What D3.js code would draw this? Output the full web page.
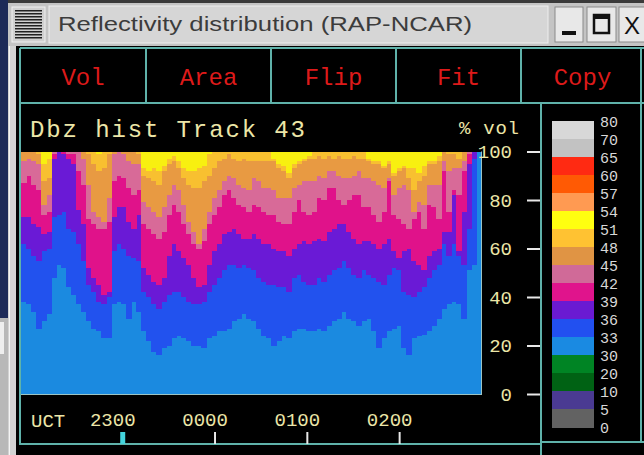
<!DOCTYPE html>
<html><head><meta charset="utf-8">
<script src="https://cdn.jsdelivr.net/npm/d3@7/dist/d3.min.js"></script>
<style>html,body{margin:0;padding:0;background:#000;overflow:hidden}svg{display:block}</style>
</head><body>
<svg id="c" width="644" height="455"></svg>
<script>
// ---------------- DATA ----------------
// Cumulative % of volume below each dBZ threshold, one value per time column
const below33 = [38,37,34,27,30,33,48,53,52,44,41,37,34,30,27,26,23,23,37,38,37,31,38,34,26,22,17.5,16,19,20,23,24,23,22,20,20,19,23,24,26,26,27,30,31,33,31,30,27,24,23,20,22,24,23,26,27,27,26,26,27,26,28,30,31,34,31,30,28,30,31,26,19,23,26,27,28,19,16,23,24,24.5,26,28,31,35,37,38,37,31,51,53,100];
const below36 = [62,60,57,55,59,60,73,74,75,68,67,62,55,45,42,38,37,40,59,62,60,57,56,55,42,40,37,35,38,41,42,42,40,38,37,37,38,42,45,48,51,53,53,52,53,52,51,48,46,45,45,44,44,42,48,49,46,45,45,48,46,49,51,52,55,52,49,48,51,49,48,46,45,49,52,51,42,41,40,42,44,48,51,53,62,57,62,57,53,68,97,100];
const below39 = [73,73,70,69,66,67,97,100,99,97,95,76,70,52,48,45,41,42,73,77,77,71,68,74,52,49,46,45,48,57,62,59,56,53,48,44,45,53,59,62,66,67,68,66,64,64,66,64,62,62,60,59,59,57,60,62,63,62,63,64,63,67,68,70,70,67,64,62,63,63,62,60,62,64,59,56,59,60,55,53,51,57,59,60,67,67,82,59,75,95,100,100];
const below42 = [87,90,86,84,74,75,99,100,100,99,99,92,86,72,70,68,68,71,88,90,89,85,82,84,70,68,66,64,67,74,78,75,70,66,62,60,63,70,74,77,82,84,81,78,77,75,78,77,75,74,74,71,70,70,75,80,75,74,75,81,80,85,85,80,78,80,82,82,77,77,74,71,75,88,74,72,70,68,72,75,68,78,77,72,92,75,84,82,92,99,100,100];
const below45 = [96,97,96,95,78,82,100,100,100,100,100,100,97,86,75,73,71,81,99,100,99,96,95,95,79,77,75,73,77,82,86,84,78,71,67,62,68,75,81,84,88,90,89,86,85,84,89,88,85,85,84,81,81,81,85,86,88,88,88,90,89,92,92,90,89,89,90,92,89,89,88,86,85,89,82,85,86,84,75,79,78,86,86,86,96,92,93,93,96,100,100,100];
const below48 = [100,100,100,99,88,89,100,100,100,100,100,100,100,99,95,92,93,99,100,100,100,100,100,99,90,89,88,86,92,95,96,93,89,86,85,85,88,90,93,96,97,99,97,96,97,96,96,96,96,96,96,93,92,89,93,95,96,97,97,98,97,98,97,98,97,97,98,97,97,96,95,95,93,95,90,92,93,89,84,88,90,95,95,96,100,99,99,97,100,100,100,100];
const below51 = [100,100,100,100,95,97,100,100,100,100,100,100,100,100,100,99,100,100,100,100,100,100,100,100,93,92,93,92,94,97,98,96,93,92,92,93,94,99,100,100,100,100,100,100,100,100,100,100,100,100,97,95,94,91,95,96,97,98,100,100,100,100,100,100,100,100,100,100,100,97,96,96,94,96,91,93,94,93,93,91,94,96,96,98,100,100,100,100,100,100,100,100];
// yellow (51-54 dBZ) fills the remainder up to 100 %

const timeStart = new Date(Date.UTC(2000,0,1,21,54,12));
const timeEnd   = new Date(Date.UTC(2000,0,2,2,53,13));
const hourTicks = [new Date(Date.UTC(2000,0,1,23,0)), new Date(Date.UTC(2000,0,2,0,0)),
                   new Date(Date.UTC(2000,0,2,1,0)), new Date(Date.UTC(2000,0,2,2,0))];
const yTicks = [0,20,40,60,80,100];

const legendLabels = ["80","70","65","60","57","54","51","48","45","42","39","36","33","30","20","10","5","0"];
const legendColors = ["#d8d8d8","#c2c2c2","#ff2a12","#ff5a04","#ff9a52","#ffff10","#ffc232","#e09444","#d06a98","#e0148c","#6a1ad2","#2250f0","#1a8ae2","#008424","#006214","#4a3a92","#626262"];

const layerColors = ["#1b8ae0","#2252ee","#6a1ad6","#e0128a","#d86a98","#e89a42","#f8c030","#f8f010"];
const buttons = ["Vol","Area","Flip","Fit","Copy"];

// ---------------- DRAW ----------------
const svg = d3.select("#c");
const W = 644, H = 455;
const teal = "#5fb2aa";

svg.append("rect").attr("width",W).attr("height",H).attr("fill","#000");

// desktop strip + window frame on the left
svg.append("rect").attr("x",0).attr("y",0).attr("width",8).attr("height",318).attr("fill","#1d2a58");
svg.append("rect").attr("x",0).attr("y",318).attr("width",8).attr("height",137).attr("fill","#b8b8b8");
svg.append("rect").attr("x",0).attr("y",322).attr("width",4).attr("height",32).attr("fill","#eeeeee");
svg.append("rect").attr("x",8).attr("y",0).attr("width",8).attr("height",H).attr("fill","#d2d2d2");
svg.append("rect").attr("x",9).attr("y",0).attr("width",1).attr("height",H).attr("fill","#f4f4f4");

// title bar
svg.append("rect").attr("x",8).attr("y",0).attr("width",W-8).attr("height",46).attr("fill","#c4c4c4");
svg.append("rect").attr("x",8).attr("y",0).attr("width",W-8).attr("height",3).attr("fill","#3a3a3a");
svg.append("rect").attr("x",49).attr("y",6).attr("width",499).attr("height",37).attr("fill","#d6d6d6").attr("stroke","#eeeeee").attr("stroke-width",1);
// menu button
svg.append("rect").attr("x",12).attr("y",7).attr("width",33).attr("height",35).attr("fill","#d0d0d0").attr("stroke","#f0f0f0");
svg.append("g").selectAll("rect").data(d3.range(10)).join("rect")
  .attr("x",15).attr("y",d=>10+d*3).attr("width",27).attr("height",1.5).attr("fill","#202020");
svg.append("text").attr("x",58).attr("y",31).attr("font-family","Liberation Sans, DejaVu Sans, sans-serif")
  .attr("font-size",20).attr("fill","#3c3c3c").attr("textLength",414).attr("lengthAdjust","spacingAndGlyphs")
  .text("Reflectivity distribution (RAP-NCAR)");
// window buttons
[[555,28],[587,29],[619,30]].forEach(([x,w])=>{
  svg.append("rect").attr("x",x).attr("y",7).attr("width",w).attr("height",35).attr("fill","#e8e8e8").attr("stroke","#8a8a8a");
});
svg.append("rect").attr("x",562).attr("y",31).attr("width",14).attr("height",4).attr("fill","#111");
svg.append("rect").attr("x",594).attr("y",15).attr("width",15).attr("height",18).attr("fill","none").attr("stroke","#111").attr("stroke-width",2.5);
svg.append("rect").attr("x",594).attr("y",14).attr("width",15).attr("height",5).attr("fill","#111");
svg.append("text").attr("x",632).attr("y",34).attr("text-anchor","middle").attr("font-family","Liberation Sans, sans-serif")
  .attr("font-size",24).attr("fill","#111").text("X");

// panel borders
const line = (x1,y1,x2,y2,w=2)=>svg.append("line").attr("x1",x1).attr("y1",y1).attr("x2",x2).attr("y2",y2).attr("stroke",teal).attr("stroke-width",w);
line(20,48,644,48);
line(20,48,20,445);
line(20,103,644,103);
line(541,103,541,455);
line(20,444,541,444);
line(541,442,644,442);
line(641,48,641,442);

// button row
const btnEdges = [20,146,271,396,521,644];
btnEdges.slice(1,5).forEach(x=>line(x,48,x,103));
svg.append("g").selectAll("text").data(buttons).join("text")
  .attr("x",(d,i)=>(btnEdges[i]+btnEdges[i+1])/2).attr("y",85).attr("text-anchor","middle")
  .attr("font-family","Liberation Mono, DejaVu Sans Mono, monospace").attr("font-size",24)
  .attr("fill","#dd1a1a").text(d=>d);

// scales
const plotL = 21, plotR = 481;
const x = d3.scaleTime().domain([timeStart,timeEnd]).range([plotL,plotR]);
const xb = d3.scaleBand().domain(d3.range(below33.length)).range([plotL,plotR]).padding(0);
const y = d3.scaleLinear().domain([0,100]).range([394,151.5]);

// stacked columns
const bounds = [below33,below36,below39,below42,below45,below48,below51];
const gPlot = svg.append("g").attr("shape-rendering","crispEdges");
layerColors.forEach((col,k)=>{
  const rows = d3.range(below33.length).map(i=>{
    const lo = k===0 ? 0 : bounds[k-1][i];
    const hi = k<bounds.length ? bounds[k][i] : 100;
    return {i,lo,hi};
  }).filter(d=>d.hi>d.lo);
  gPlot.append("g").selectAll("rect").data(rows).join("rect")
    .attr("x",d=>xb(d.i)).attr("width",xb.bandwidth()+0.5)
    .attr("y",d=>y(d.hi)).attr("height",d=>y(d.lo)-y(d.hi))
    .attr("fill",col);
});
svg.append("line").attr("x1",plotR+0.5).attr("x2",plotR+0.5).attr("y1",y(100)).attr("y2",y(0)+1).attr("stroke","#9cc4c4").attr("stroke-width",1);
svg.append("line").attr("x1",plotL).attr("x2",plotR+1).attr("y1",y(0)+0.5).attr("y2",y(0)+0.5).attr("stroke","#9cc4c4").attr("stroke-width",1);

// titles
const mono = "Liberation Mono, DejaVu Sans Mono, monospace";
svg.append("text").attr("x",30).attr("y",137).attr("font-family",mono).attr("font-size",24)
  .attr("fill","#ece6a8").attr("textLength",275).attr("lengthAdjust","spacing").text("Dbz hist Track 43");
svg.append("text").attr("x",459).attr("y",134).attr("font-family",mono).attr("font-size",19)
  .attr("fill","#ece6a8").attr("textLength",60).attr("lengthAdjust","spacing").text("% vol");

// y axis
const yAxis = d3.axisLeft(y).tickValues(yTicks).tickSize(13).tickPadding(15).tickFormat(d3.format("d"));
const gy = svg.append("g").attr("transform","translate(540,0)").call(yAxis);
gy.select(".domain").remove();
gy.selectAll("line").attr("stroke","#e8e8e8").attr("stroke-width",2);
gy.selectAll("text").attr("font-family",mono).attr("font-size",19).attr("fill","#ece6a8");

// x axis
svg.append("text").attr("x",31).attr("y",427).attr("font-family",mono).attr("font-size",19)
  .attr("fill","#ece6a8").text("UCT");
const xAxis = d3.axisTop(x).tickValues(hourTicks).tickSize(12).tickPadding(6).tickFormat(d3.utcFormat("%H%M"));
const gx = svg.append("g").attr("transform","translate(0,444)").call(xAxis);
gx.select(".domain").remove();
gx.selectAll("line").attr("stroke","#e8e8e8").attr("stroke-width",2);
gx.selectAll("text").attr("dx",-10).attr("font-family",mono).attr("font-size",19).attr("fill","#ece6a8");
gx.selectAll(".tick").filter((d,i)=>i===0).select("line").attr("stroke","#44d4dc").attr("stroke-width",5);

// colour legend
const lb = d3.scaleBand().domain(d3.range(legendColors.length)).range([121,427]);
const lp = d3.scalePoint().domain(d3.range(legendLabels.length)).range([121,427]);
svg.append("g").attr("shape-rendering","crispEdges").selectAll("rect").data(legendColors).join("rect")
  .attr("x",552).attr("width",42).attr("y",(d,i)=>lb(i)).attr("height",lb.bandwidth()+0.5).attr("fill",d=>d);
svg.append("g").selectAll("text").data(legendLabels).join("text")
  .attr("x",600).attr("y",(d,i)=>lp(i)+2).attr("dominant-baseline","middle")
  .attr("font-family",mono).attr("font-size",15).attr("fill","#d8d8d8").text(d=>d);
</script>
</body></html>
